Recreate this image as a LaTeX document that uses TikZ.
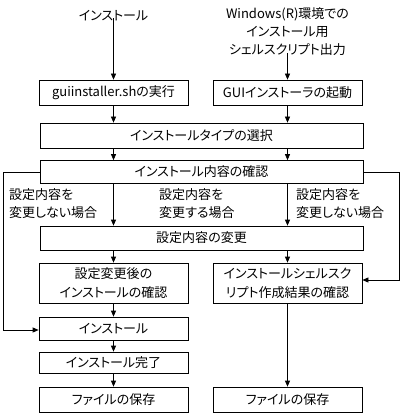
\documentclass[tikz,border=0pt]{standalone}
\usepackage{fontspec}
\setmainfont{Noto Sans CJK JP}[RawFeature=+palt]
\usetikzlibrary{arrows.meta}

\tikzset{
  box/.style={draw, line width=0.7pt, minimum height=25pt, inner sep=0pt, align=center, font=\fontsize{13pt}{19pt}\selectfont},
  txt/.style={inner sep=0pt, font=\fontsize{13pt}{18pt}\selectfont},
  arr/.style={line width=0.7pt, -{Triangle[length=6pt,width=5pt]}}
}

\begin{document}
\begin{tikzpicture}[x=1pt,y=-1pt]
\useasboundingbox (0,0) rectangle (403,414);

% start texts
\node[txt] (inst) at (113.5,16) {インストール};
\node[txt, align=center] (win) at (287.5,32) {Windows(R)環境での\\インストール用\\シェルスクリプト出力};

% boxes
\node[box, minimum width=149pt] (run) at (113.5,92.5) {guiinstaller.shの実行};
\node[box, minimum width=149pt] (gui) at (287.5,92.5) {GUIインストーラの起動};
\node[box, minimum width=323pt] (type) at (201.5,135.5) {インストールタイプの選択};
\node[box, minimum width=323pt, minimum height=23pt] (check) at (201.5,172) {インストール内容の確認};
\node[box, minimum width=323pt, minimum height=24pt] (change) at (201.5,238) {設定内容の変更};
\node[box, minimum width=149pt, minimum height=40pt] (after) at (113.5,283) {設定変更後の\\インストールの確認};
\node[box, minimum width=149pt, minimum height=40pt] (result) at (287.5,283) {インストールシェルスク\\リプト作成結果の確認};
\node[box, minimum width=149pt, minimum height=23pt] (install) at (113.5,328.5) {インストール};
\node[box, minimum width=149pt, minimum height=21pt] (done) at (113.5,362.5) {インストール完了};
\node[box, minimum width=149pt] (save) at (113.5,399.5) {ファイルの保存};
\node[box, minimum width=149pt] (saveb) at (287.5,399.5) {ファイルの保存};

% branch labels
\node[txt, anchor=west, align=left] (nochg) at (9,204) {設定内容を\\変更しない場合};
\node[txt, anchor=west, align=left] (chg) at (159,204) {設定内容を\\変更する場合};
\node[txt, anchor=west, align=left] (nochgb) at (296,204) {設定内容を\\変更しない場合};

\coordinate (lft) at (3.5,172);
\coordinate (rgt) at (399,172);

% connectors
\draw[arr] ([yshift=3pt]inst.south) -- (run);
\draw[arr] ([yshift=3pt]win.south) -- (gui);
\draw[arr] (run) -- (run |- type.north);
\draw[arr] (gui) -- (gui |- type.north);
\draw[arr] (type.south -| run) -- (run |- check.north);
\draw[arr] (type.south -| gui) -- (gui |- check.north);
\draw[arr] (check.south -| run) -- (run |- change.north);
\draw[arr] (check.south -| gui) -- (gui |- change.north);
\draw[arr] (change.south -| run) -- (after);
\draw[arr] (change.south -| gui) -- (result);
\draw[arr] (after) -- (install);
\draw[arr] (install) -- (done);
\draw[arr] (done) -- (save);
\draw[arr] (result) -- (saveb);
\draw[arr] (check.west) -- (lft) |- ([yshift=-1.5pt]install.west);
\draw[arr] (check.east) -- (rgt) |- ([yshift=3pt]result.east);

\end{tikzpicture}
\end{document}
